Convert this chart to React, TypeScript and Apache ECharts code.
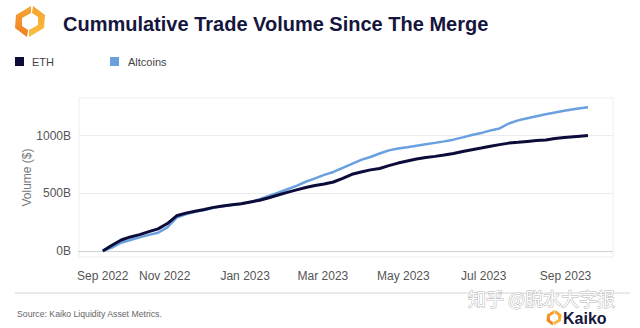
import React, { useEffect, useRef } from "react";
import * as echarts from "echarts";

const FONT = "'Liberation Sans', Arial, Helvetica, sans-serif";

const dates: string[] = [
  "2022-09-15", "2022-09-22", "2022-09-29", "2022-10-06", "2022-10-13", "2022-10-20", "2022-10-27",
  "2022-11-03", "2022-11-10", "2022-11-17", "2022-11-24", "2022-12-01", "2022-12-08", "2022-12-15",
  "2022-12-22", "2022-12-29", "2023-01-05", "2023-01-12", "2023-01-19", "2023-01-26", "2023-02-02",
  "2023-02-09", "2023-02-16", "2023-02-23", "2023-03-02", "2023-03-09", "2023-03-16", "2023-03-23",
  "2023-03-30", "2023-04-06", "2023-04-13", "2023-04-20", "2023-04-27", "2023-05-04", "2023-05-11",
  "2023-05-18", "2023-05-25", "2023-06-01", "2023-06-08", "2023-06-15", "2023-06-22", "2023-06-29",
  "2023-07-06", "2023-07-13", "2023-07-20", "2023-07-27", "2023-08-03", "2023-08-10", "2023-08-17",
  "2023-08-24", "2023-08-31", "2023-09-07", "2023-09-12", "2023-09-18",
];

const ethValues: number[] = [
  0, 50, 95, 122, 142, 168, 192, 238, 305, 328, 345, 360, 378, 390, 400, 410, 425, 440, 462, 485,
  508, 530, 550, 568, 580, 598, 630, 665, 685, 703, 715, 740, 762, 780, 798, 810, 820, 832, 845,
  862, 878, 892, 908, 922, 935, 942, 950, 958, 962, 975, 983, 990, 995, 1000,
];

const altValues: number[] = [
  0, 30, 72, 95, 118, 140, 158, 205, 290, 318, 340, 355, 375, 388, 398, 410, 425, 450, 478, 505,
  535, 565, 600, 630, 660, 685, 720, 755, 790, 815, 845, 872, 888, 900, 913, 925, 937, 950, 965,
  985, 1005, 1022, 1045, 1062, 1105, 1132, 1150, 1168, 1185, 1200, 1215, 1228, 1237, 1245,
];

const xTickDates: string[] = [
  "2022-09-15", "2022-11-01", "2023-01-01", "2023-03-01", "2023-05-01", "2023-07-01", "2023-09-01",
];
const xTickLabels: string[] = [
  "Sep 2022", "Nov 2022", "Jan 2023", "Mar 2023", "May 2023", "Jul 2023", "Sep 2023",
];
const yTickValues: number[] = [0, 500, 1000];
const yTickLabels: string[] = ["0B", "500B", "1000B"];

const ETH_COLOR = "#0c0c3a";
const ALT_COLOR = "#6a9fe0";
const NAVY = "#15153d";

const ts = (d: string) => {
  const [y, m, dd] = d.split("-").map(Number);
  return Date.UTC(y, m - 1, dd);
};

export default function App() {
  const ref = useRef<HTMLDivElement>(null);

  useEffect(() => {
    if (!ref.current) return;
    document.body.style.margin = "0";
    const chart = echarts.init(ref.current, undefined, { renderer: "svg" });
    const tickTs = xTickDates.map(ts);

    const leftPiece = [
      [31, 6], [16, 15], [15, 28], [27, 37], [28, 30], [22, 26], [22, 18], [31, 13],
    ];
    const rightPiece = leftPiece.map(([x, y]) => [60 - x, 43 - y]);
    const smallLeft = leftPiece.map(([x, y]) => [x * 0.5, y * 0.5]);
    const smallRight = rightPiece.map(([x, y]) => [x * 0.5, y * 0.5]);
    const leftFill = new echarts.graphic.LinearGradient(0, 0, 0, 1, [
      { offset: 0, color: "#f7a535" },
      { offset: 1, color: "#ef7d1e" },
    ]);
    const rightFill = new echarts.graphic.LinearGradient(0, 0, 0, 1, [
      { offset: 0, color: "#f4a22e" },
      { offset: 1, color: "#fbbf3f" },
    ]);

    chart.setOption({
      animation: false,
      backgroundColor: "#ffffff",
      textStyle: { fontFamily: FONT },
      grid: {
        left: 79,
        right: 27,
        top: 98,
        bottom: 71,
        show: true,
        borderColor: "#eeeeee",
        borderWidth: 1,
        backgroundColor: "transparent",
        containLabel: false,
      },
      xAxis: {
        type: "value",
        min: ts("2022-08-28"),
        max: ts("2023-10-07"),
        axisLine: {
          show: true,
          onZero: true,
          lineStyle: { color: "#c8c8c8", type: "dotted", width: 1 },
        },
        axisTick: { show: false },
        splitLine: { show: false },
        axisLabel: {
          customValues: tickTs,
          color: "#555555",
          fontSize: 12,
          fontFamily: FONT,
          margin: 13,
          hideOverlap: false,
          formatter: (v: number) => {
            const i = tickTs.indexOf(v);
            return i >= 0 ? xTickLabels[i] : "";
          },
        },
      },
      yAxis: {
        type: "value",
        min: -52,
        max: 1326,
        name: "Volume ($)",
        nameLocation: "middle",
        nameGap: 46,
        nameMoveOverlap: false,
        nameTextStyle: { color: "#777777", fontSize: 12, fontFamily: FONT },
        axisLine: { show: false },
        axisTick: { show: false, customValues: [500, 1000] },
        splitLine: { show: true, lineStyle: { color: "#ececec", width: 1 } },
        axisLabel: {
          customValues: yTickValues,
          color: "#555555",
          fontSize: 12,
          fontFamily: FONT,
          margin: 8,
          formatter: (v: number) => {
            const i = yTickValues.indexOf(v);
            return i >= 0 ? yTickLabels[i] : "";
          },
        },
      },
      series: [
        {
          name: "Altcoins",
          type: "line",
          data: dates.map((d, i) => [ts(d), altValues[i]]),
          showSymbol: false,
          smooth: false,
          lineStyle: { color: ALT_COLOR, width: 2.5 },
          itemStyle: { color: ALT_COLOR },
          z: 2,
        },
        {
          name: "ETH",
          type: "line",
          data: dates.map((d, i) => [ts(d), ethValues[i]]),
          showSymbol: false,
          smooth: false,
          lineStyle: { color: ETH_COLOR, width: 3 },
          itemStyle: { color: ETH_COLOR },
          z: 3,
        },
      ],
      graphic: [
        {
          type: "group",
          x: 0,
          y: 0,
          children: [
            { type: "polygon", shape: { points: leftPiece }, style: { fill: leftFill } },
            { type: "polygon", shape: { points: rightPiece }, style: { fill: rightFill } },
          ],
        },
        {
          type: "text",
          x: 63,
          y: 24,
          style: {
            text: "Cummulative Trade Volume Since The Merge",
            fill: NAVY,
            font: `bold 20px ${FONT}`,
            verticalAlign: "middle",
          },
        },
        { type: "rect", shape: { x: 15, y: 57, width: 9, height: 9 }, style: { fill: ETH_COLOR } },
        {
          type: "text",
          x: 32,
          y: 62,
          style: { text: "ETH", fill: "#444444", font: `11px ${FONT}`, verticalAlign: "middle" },
        },
        { type: "rect", shape: { x: 110, y: 57, width: 9, height: 9 }, style: { fill: ALT_COLOR } },
        {
          type: "text",
          x: 128,
          y: 62,
          style: { text: "Altcoins", fill: "#444444", font: `11px ${FONT}`, verticalAlign: "middle" },
        },
        {
          type: "line",
          shape: { x1: 15, y1: 293, x2: 630, y2: 293 },
          style: { stroke: "#d4d4d4", lineWidth: 1 },
        },
        {
          type: "text",
          x: 17,
          y: 314,
          style: {
            text: "Source: Kaiko Liquidity Asset Metrics.",
            fill: "#666666",
            font: `8.7px ${FONT}`,
            verticalAlign: "middle",
          },
        },
        {
          type: "text",
          x: 468,
          y: 298,
          style: {
            text: "知乎 @脱水大字报",
            fill: "#ffffff",
            stroke: "#b5b5b5",
            lineWidth: 1,
            font: `18px 'Noto Sans CJK SC', sans-serif`,
            verticalAlign: "middle",
          },
          z: 10,
        },
        {
          type: "group",
          x: 539,
          y: 307,
          children: [
            { type: "polygon", shape: { points: smallLeft }, style: { fill: leftFill } },
            { type: "polygon", shape: { points: smallRight }, style: { fill: rightFill } },
          ],
        },
        {
          type: "text",
          x: 563,
          y: 318,
          style: { text: "Kaiko", fill: NAVY, font: `bold 16px ${FONT}`, verticalAlign: "middle" },
        },
      ],
    });

    return () => chart.dispose();
  }, []);

  return <div ref={ref} style={{ width: 640, height: 328 }} />;
}
